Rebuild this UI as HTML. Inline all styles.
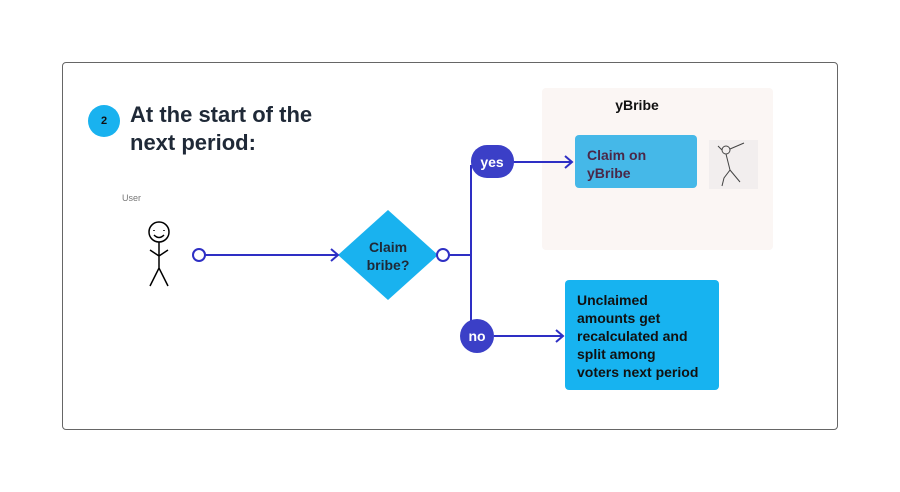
<!DOCTYPE html>
<html><head><style>
body{margin:0;width:900px;height:492px;background:#fff;position:relative;font-family:"Liberation Sans",sans-serif;overflow:hidden}
.a{position:absolute}
</style></head><body>
<div class="a" style="left:62px;top:62px;width:774px;height:366px;border:1px solid #666;border-radius:4px"></div>
<div class="a" style="left:542px;top:88px;width:231px;height:162px;background:#fbf6f4;border-radius:4px"></div>
<div class="a" style="left:600px;top:97px;width:74px;text-align:center;font-weight:bold;font-size:14px;color:#111">yBribe</div>
<div class="a" style="left:88px;top:105px;width:32px;height:32px;border-radius:50%;background:#19b2ef;color:#111;font-size:11px;font-weight:bold;text-align:center;line-height:32px">2</div>
<div class="a" style="left:130px;top:101px;font-size:22px;font-weight:bold;color:#1f2937;line-height:28px">At the start of the<br>next period:</div>
<div class="a" style="left:122px;top:193px;font-size:9px;color:#777">User</div>
<div class="a" style="left:575px;top:135px;width:122px;height:53px;background:#45b8e8;border-radius:4px;box-sizing:border-box;padding:11px 0 0 12px;font-size:14px;font-weight:bold;color:#4a2848;line-height:18px">Claim on<br>yBribe</div>
<div class="a" style="left:709px;top:140px;width:49px;height:49px;background:#f2eeee"></div>
<div class="a" style="left:565px;top:280px;width:154px;height:110px;background:#17b3f0;border-radius:4px;box-sizing:border-box;padding:11px 0 0 12px;font-size:14px;font-weight:bold;color:#111;line-height:18px">Unclaimed<br>amounts get<br>recalculated and<br>split among<br>voters next period</div>
<svg class="a" style="left:0;top:0" width="900" height="492">
<g stroke="#000" stroke-width="1.5" fill="none">
<circle cx="159" cy="232" r="10"/>
<path d="M154 230v1M164 230v1M154 235q5 5 10 0"/>
<path d="M159 242v26M150 250l9 6 9-6M150 286l9-18 9 18"/>
</g>
<g stroke="#444" stroke-width="1" fill="none">
<circle cx="726" cy="150" r="4"/><path d="M726 154l4 16-6 8-2 8M730 170l10 12M722 150l-4-4M730 149l14-6"/>
</g>
<polygon points="388,210 438,255 388,300 338,255" fill="#19b2ef"/>
<text x="388" y="252" text-anchor="middle" font-size="14" font-weight="bold" fill="#1f2937">Claim</text>
<text x="388" y="270" text-anchor="middle" font-size="14" font-weight="bold" fill="#1f2937">bribe?</text>
<g stroke="#2e2fc4" stroke-width="2" fill="none">
<path d="M205 255H338M331 249l7 6-7 6"/>
<path d="M449 255H471M471 165V336"/>
<path d="M513 162H572M565 156l7 6-7 6"/>
<path d="M494 336H563M556 330l7 6-7 6"/>
</g>
<circle cx="199" cy="255" r="6" fill="#fff" stroke="#2e2fc4" stroke-width="2"/>
<circle cx="443" cy="255" r="6" fill="#fff" stroke="#2e2fc4" stroke-width="2"/>
<rect x="471" y="145" width="43" height="33" rx="16" fill="#3b3fc7"/>
<text x="492" y="167" text-anchor="middle" font-size="14" font-weight="bold" fill="#fff">yes</text>
<circle cx="477" cy="336" r="17" fill="#3b3fc7"/>
<text x="477" y="341" text-anchor="middle" font-size="14" font-weight="bold" fill="#fff">no</text>
</svg>
</body></html>
